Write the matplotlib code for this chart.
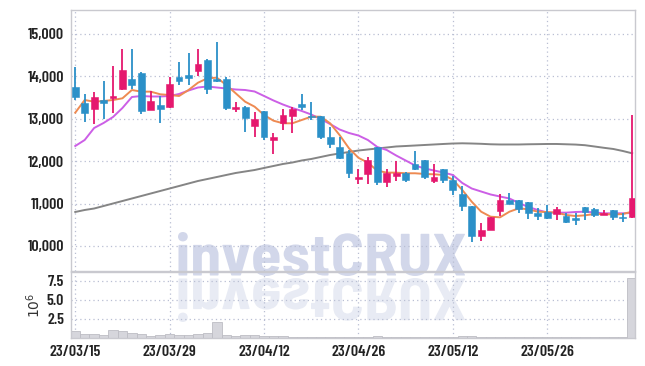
import numpy as np
import matplotlib
matplotlib.use("Agg")
import matplotlib.pyplot as plt
from matplotlib.ticker import FuncFormatter
from matplotlib.textpath import TextPath
from matplotlib.font_manager import FontProperties
from matplotlib.patches import PathPatch
import matplotlib.transforms as mtransforms

# trading days shown on the chart
dates = ["23/03/15", "23/03/16", "23/03/17", "23/03/20", "23/03/21", "23/03/22", "23/03/23", "23/03/24",
         "23/03/27", "23/03/28", "23/03/29", "23/03/30", "23/03/31", "23/04/03", "23/04/04", "23/04/05",
         "23/04/06", "23/04/07", "23/04/10", "23/04/11", "23/04/12", "23/04/13", "23/04/14", "23/04/17",
         "23/04/18", "23/04/19", "23/04/20", "23/04/21", "23/04/24", "23/04/25", "23/04/26", "23/04/27",
         "23/04/28", "23/05/02", "23/05/03", "23/05/04", "23/05/08", "23/05/09", "23/05/10", "23/05/11",
         "23/05/12", "23/05/15", "23/05/16", "23/05/17", "23/05/18", "23/05/19", "23/05/22", "23/05/23",
         "23/05/24", "23/05/25", "23/05/26", "23/05/30", "23/05/31", "23/06/01", "23/06/02", "23/06/05",
         "23/06/07", "23/06/08", "23/06/09", "23/06/12"]

opens = [13757, 13380, 13231, 13443, 13491, 13696, 13939, 14088, 13208, 13326,
         13271, 13986, 14033, 14134, 14387, 13931, 13931, 13224, 13278, 12837,
         13184, 12500, 12894, 13074, 13349, 13066, 13066, 12578, 12327, 12201,
         11573, 11691, 12327, 11517, 11659, 11715, 11934, 12028, 11540, 11816,
         11557, 11226, 10943, 10243, 10377, 10833, 11085, 11085, 11030, 10786,
         10809, 10755, 10707, 10668, 10912, 10865, 10723, 10849, 10692, 10676]
highs = [14222, 13578, 13625, 13892, 14245, 14639, 14646, 14100, 13656, 13545,
         13979, 14333, 14545, 14639, 14420, 14818, 13993, 13403, 13290, 13153,
         13190, 12673, 13224, 13286, 13585, 13400, 13070, 12814, 12578, 12264,
         11820, 12092, 12330, 11809, 12005, 11754, 12248, 12030, 11934, 11820,
         11640, 11415, 10950, 10535, 10677, 11226, 11257, 11090, 11035, 10889,
         10967, 10912, 10786, 10771, 10915, 10904, 10849, 10852, 10771, 13090]
lows = [13443, 12932, 12870, 12988, 13144, 13690, 13696, 13106, 13200, 12894,
        13265, 13797, 13797, 14017, 13585, 13860, 13208, 13167, 12689, 12578,
        12510, 12170, 12736, 12673, 13208, 12972, 12524, 12318, 12045, 11597,
        11462, 11462, 11439, 11399, 11540, 11517, 11800, 11573, 11493, 11493,
        11210, 10825, 10101, 10118, 10370, 10708, 10983, 10786, 10630, 10613,
        10640, 10613, 10535, 10495, 10613, 10676, 10720, 10613, 10573, 10670]
closes = [13521, 13144, 13507, 13380, 13538, 14151, 13797, 13184, 13427, 13231,
          13821, 13899, 13970, 14292, 13696, 13892, 13262, 13278, 13026, 12995,
          12578, 12563, 13090, 13231, 13286, 13035, 12578, 12398, 12068, 11715,
          11630, 12028, 11517, 11730, 11715, 11557, 11809, 11635, 11635, 11557,
          11310, 10943, 10243, 10377, 10677, 11085, 10983, 10865, 10771, 10715,
          10653, 10865, 10573, 10613, 10809, 10731, 10771, 10676, 10660, 11125]

ma_5 = [13144, 13443, 13403, 13420, 13443, 13483, 13679, 13640, 13640, 13578,
        13561, 13538, 13679, 13851, 13955, 13970, 13797, 13601, 13403, 13286,
        13090, 12955, 12894, 12894, 12972, 13050, 13050, 12894, 12618, 12304,
        12080, 11965, 11777, 11730, 11730, 11715, 11715, 11699, 11691, 11675,
        11565, 11321, 11045, 10809, 10691, 10676, 10809, 10889, 10865, 10809,
        10800, 10786, 10731, 10707, 10723, 10755, 10755, 10740, 10755, 10809]
ma_20 = [12358, 12500, 12783, 12901, 13042, 13255, 13514, 13538, 13526, 13526,
         13538, 13585, 13667, 13738, 13762, 13738, 13715, 13691, 13679, 13644,
         13538, 13432, 13337, 13255, 13184, 13101, 12995, 12877, 12748, 12665,
         12606, 12500, 12335, 12264, 12134, 12017, 11899, 11828, 11781, 11733,
         11675, 11486, 11356, 11285, 11215, 11167, 11120, 11014, 10920, 10849,
         10790, 10786, 10786, 10802, 10809, 10790, 10771, 10771, 10771, 10778]
ma_60 = [10802, 10849, 10884, 10943, 11002, 11061, 11120, 11179, 11238, 11297,
         11356, 11415, 11474, 11533, 11580, 11627, 11675, 11722, 11757, 11792,
         11840, 11887, 11934, 11969, 12017, 12052, 12099, 12146, 12182, 12217,
         12252, 12276, 12300, 12323, 12347, 12358, 12370, 12382, 12394, 12406,
         12417, 12422, 12417, 12410, 12399, 12394, 12394, 12394, 12399, 12402,
         12406, 12406, 12399, 12392, 12377, 12347, 12316, 12288, 12241, 12186]

volumes = [920000, 530000, 530000, 350000, 1050000, 920000, 660000, 480000, 220000, 350000,
           530000, 350000, 350000, 530000, 660000, 2100000, 350000, 220000, 350000, 350000,
           220000, 220000, 260000, 130000, 130000, 180000, 150000, 120000, 120000, 150000,
           100000, 120000, 200000, 120000, 100000, 120000, 150000, 100000, 100000, 120000,
           150000, 200000, 250000, 180000, 120000, 120000, 100000, 100000, 100000, 120000,
           100000, 100000, 120000, 100000, 100000, 100000, 100000, 100000, 120000, 7850000]

tick_idx = [0, 10, 20, 30, 40, 50]

UP = "#e5186e"
DOWN = "#2b90c8"
GRID = "#b9bfd3"
FONT = ["Barlow Condensed", "DejaVu Sans"]

W, H = 645, 366
fig = plt.figure(figsize=(W / 100, H / 100), dpi=100)
fig.patch.set_facecolor("white")

# watermark layer in pixel coordinates
wm = fig.add_axes([0, 0, 1, 1], zorder=0)
wm.set_xlim(0, W)
wm.set_ylim(H, 0)
wm.axis("off")
tp = TextPath((0, 0), "investCRUX", size=100,
              prop=FontProperties(family=["Barlow Semi Condensed", "DejaVu Sans"], weight=700))
ext = tp.get_extents()
sx = (465 - 178) / ext.width
sy = (276 - 232) / ext.height
t_top = mtransforms.Affine2D().translate(-ext.x0, -ext.y0).scale(sx, -sy).translate(178, 276)
t_ref = mtransforms.Affine2D().translate(-ext.x0, -ext.y0).scale(sx, sy).translate(178, 278)
wm.add_patch(PathPatch(t_top.transform_path(tp), facecolor="#d2d7ea", edgecolor="none"))
wm.add_patch(PathPatch(t_ref.transform_path(tp), facecolor="#e8ebf4", edgecolor="none"))

ax = fig.add_axes([71 / W, 1 - 271 / H, (635 - 71) / W, (271 - 10) / H], zorder=1)
ax2 = fig.add_axes([71 / W, 1 - 338 / H, (635 - 71) / W, (338 - 272) / H], zorder=1, sharex=ax)
for a in (ax, ax2):
    a.patch.set_alpha(0)
    for s in a.spines.values():
        s.set_color("#c9c9cf")
        s.set_linewidth(1)
    a.grid(True, color=GRID, linestyle=(0, (1, 2.5)), linewidth=0.9)
    a.set_axisbelow(True)
    a.tick_params(length=0, colors="#222222")

x = np.arange(len(dates))
o = np.array(opens)
c = np.array(closes)
colors = [UP if cc >= oo else DOWN for oo, cc in zip(o, c)]

ax.plot(x, ma_60, color="#858585", lw=1.4, zorder=2)
ax.plot(x, ma_20, color="#cc5fe6", lw=1.4, zorder=2)
ax.plot(x, ma_5, color="#ee8a52", lw=1.4, zorder=2)
ax.vlines(x, lows, highs, colors=colors, lw=1.3, zorder=3)
ax.bar(x, np.maximum(np.abs(c - o), 20), bottom=np.minimum(o, c), width=0.72,
       color=colors, edgecolor=colors, linewidth=0.4, zorder=4)

ax.set_ylim(9410, 15566)
ax.set_xlim(-0.45, 59.3)
ax.set_yticks([10000, 11000, 12000, 13000, 14000, 15000])
ax.yaxis.set_major_formatter(FuncFormatter(lambda v, p: f"{v:,.0f}"))
ax.set_xticks(tick_idx)
ax.tick_params(axis="x", labelbottom=False)
ax.tick_params(axis="y", pad=5)
for lab in ax.get_yticklabels():
    lab.set_family(FONT)
    lab.set_weight(600)
    lab.set_fontsize(11.5)

ax2.bar(x, np.array(volumes) / 1e6, width=1.0, color="#d6d6dc", edgecolor="#bdbdc4",
        linewidth=0.6, zorder=2)
ax2.set_ylim(0, 8.68)
ax2.set_yticks([2.5, 5.0, 7.5])
ax2.set_xticks(tick_idx)
ax2.set_xticklabels([dates[i] for i in tick_idx])
for lab in ax2.get_yticklabels() + ax2.get_xticklabels():
    lab.set_family(FONT)
    lab.set_weight(600)
    lab.set_fontsize(11.5)
ax2.tick_params(axis="x", pad=5)
ax2.tick_params(axis="y", pad=5)
plt.rcParams["mathtext.fontset"] = "dejavuserif"
ax2.set_ylabel(r"$10^{6}$", fontsize=10, color="#333333", labelpad=3)

fig.savefig("out.png", dpi=100)
